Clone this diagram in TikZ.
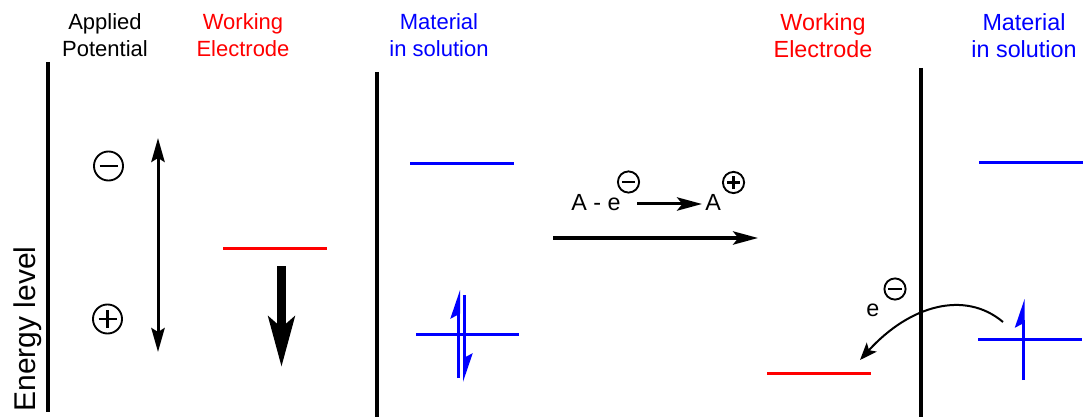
\documentclass[tikz,border=0pt]{standalone}
\usepackage{fontspec}
\setmainfont{Liberation Sans}
\usetikzlibrary{arrows.meta}
\definecolor{pred}{RGB}{255,0,0}
\definecolor{pblue}{RGB}{0,0,255}
\begin{document}
\begin{tikzpicture}[x=0.75pt,y=-0.75pt,
  divider/.style={line width=2.5pt},
  level/.style={line width=2.25pt},
  hdr/.style={font=\fontsize{16.5}{20.25}\selectfont, align=center, anchor=north, inner sep=0pt},
  hdrR/.style={font=\fontsize{17.5}{20.25}\selectfont, align=center, anchor=north, inner sep=0pt},
  txt/.style={font=\fontsize{17.5}{20}\selectfont, inner sep=0pt},
  sgn/.style={circle, draw, line width=1.4pt, inner sep=0pt},
  bigsgn/.style={sgn, minimum size=21.8pt},
  smallsgn/.style={sgn, minimum size=15.9pt},
  minusbar/.style={path picture={\draw[line width=2pt] ([xshift=-#1]path picture bounding box.center) -- ([xshift=#1]path picture bounding box.center);}},
  plusbar/.style={path picture={\draw[line width=2pt] ([xshift=-#1]path picture bounding box.center) -- ([xshift=#1]path picture bounding box.center) ([yshift=-#1]path picture bounding box.center) -- ([yshift=#1]path picture bounding box.center);}},
  dblarrow/.style={line width=2.25pt, {Stealth[length=18pt,width=10pt,inset=3pt]}-{Stealth[length=18pt,width=10pt,inset=3pt]}},
  bigarrow/.style={line width=6.75pt, -{Stealth[length=37.5pt,width=19.5pt,inset=8pt]}},
  harp/.style={line width=2.25pt, pblue, -{Stealth[harpoon,length=18pt,width=12pt,inset=3pt]}},
  rxnarrow/.style={line width=2.25pt, -{Stealth[length=18.75pt,width=10pt,inset=4pt]}},
  curvearrow/.style={line width=1.5pt, -{Stealth[length=13pt,width=10pt,inset=3pt]}},
]
\useasboundingbox (0,0) rectangle (1089,417);

% dividers
\draw[divider] (48,62) -- (48,412);
\draw[divider] (377,72) -- (377,417);
\draw[divider] (921,68) -- (921,417);

% headers
\node[hdr] (hAP) at (105,13) {Applied\\Potential};
\node[hdr, text=pred] (hWE1) at (243,13) {Working\\Electrode};
\node[hdr, text=pblue] (hMS1) at (439,13) {Material\\in solution};
\node[hdrR, text=pred] (hWE2) at (823,13) {Working\\Electrode};
\node[hdrR, text=pblue] (hMS2) at (1024,13) {Material\\in solution};

% energy level label
\node[rotate=90, anchor=base, inner sep=0pt, font=\fontsize{22.5}{27}\selectfont] (elab) at (35,329) {Energy level};

% applied potential
\node[bigsgn, minusbar=6.75pt] (sm1) at (108.5,166) {};
\node[bigsgn, plusbar=6.75pt] (sp1) at (107.5,319) {};
\coordinate (dA) at (158,138);
\coordinate (dB) at (158,352);
\draw[dblarrow] (dA) -- (dB);

% working electrode left
\draw[level, pred] (223,248) -- (327,248);
\coordinate (bA) at (281.5,266);
\coordinate (bB) at (281.5,367);
\draw[bigarrow] (bA) -- (bB);

% material in solution (middle)
\draw[level, pblue] (410,164) -- (514,164);
\draw[level, pblue] (416,334) -- (519,334);
\coordinate (h1a) at (458.5,378);
\coordinate (h1b) at (458.5,290);
\coordinate (h2a) at (464.5,295);
\coordinate (h2b) at (464.5,382);
\draw[harp] (h1a) -- (h1b);
\draw[harp] (h2a) -- (h2b);

% reaction
\node[txt, anchor=base east] (Ae) at (621,211) {A - e};
\node[smallsgn, minusbar=4.9pt] (sm2) at (628.5,182) {};
\node[txt, anchor=base west] (Ap) at (705,211) {A};
\node[smallsgn, plusbar=4.9pt] (sp2) at (733.5,182.5) {};
\coordinate (r1a) at (637,204);
\coordinate (r1b) at (702,204);
\draw[rxnarrow] (r1a) -- (r1b);
\coordinate (r2a) at (553,238);
\coordinate (r2b) at (758,238);
\draw[rxnarrow] (r2a) -- (r2b);

% right side
\draw[level, pred] (767,373) -- (871,373);
\draw[level, pblue] (979,163) -- (1083,163);
\draw[level, pblue] (978,339) -- (1082,339);
\coordinate (h3a) at (1023,380);
\coordinate (h3b) at (1023,299);
\draw[harp] (h3a) -- (h3b);

\node[txt, anchor=base west] (el) at (866,316) {e};
\node[smallsgn, minusbar=4.9pt] (sm3) at (895,289) {};
\coordinate (cA) at (1003,322);
\coordinate (cB) at (860,360);
\draw[curvearrow] (cA) .. controls (965,290) and (910,305) .. (cB);
\end{tikzpicture}
\end{document}
